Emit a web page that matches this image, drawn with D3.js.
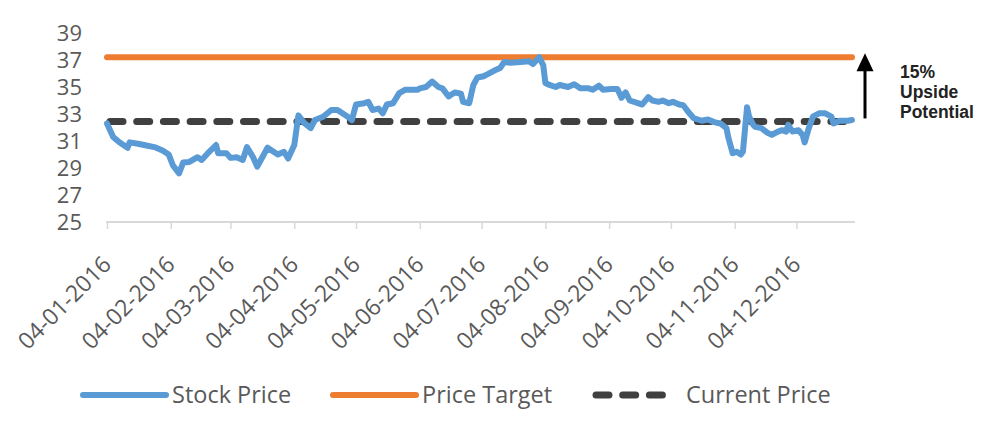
<!DOCTYPE html>
<html>
<head>
<meta charset="utf-8">
<script src="https://d3js.org/d3.v7.min.js"></script>
<style>
  body { margin: 0; background: #fff; }
  svg { display: block; }
</style>
</head>
<body>
<svg></svg>
<script>
var width = 990,
	height = 424;

// stock price
var dates = ["2016-01-04","2016-01-07","2016-01-10","2016-01-14","2016-01-15","2016-01-19","2016-01-22","2016-01-27","2016-01-31",
	"2016-02-03","2016-02-05","2016-02-08","2016-02-10","2016-02-13","2016-02-17","2016-02-19","2016-02-22","2016-02-26","2016-02-27",
	"2016-03-02","2016-03-04","2016-03-07","2016-03-10","2016-03-12","2016-03-15","2016-03-17","2016-03-22","2016-03-27","2016-03-30",
	"2016-04-01","2016-04-04","2016-04-06","2016-04-09","2016-04-12","2016-04-14","2016-04-18","2016-04-22","2016-04-25","2016-04-30",
	"2016-05-02","2016-05-04","2016-05-08","2016-05-10","2016-05-12","2016-05-15","2016-05-17","2016-05-19","2016-05-22","2016-05-25","2016-05-28",
	"2016-06-03","2016-06-04","2016-06-07","2016-06-10","2016-06-13","2016-06-15","2016-06-18","2016-06-19","2016-06-21","2016-06-24","2016-06-25","2016-06-28","2016-06-30",
	"2016-07-02","2016-07-05","2016-07-07","2016-07-10","2016-07-13","2016-07-15","2016-07-18","2016-07-23","2016-07-27","2016-07-29",
	"2016-08-01","2016-08-03","2016-08-04","2016-08-06","2016-08-09","2016-08-11","2016-08-15","2016-08-18","2016-08-21","2016-08-25","2016-08-27","2016-08-30",
	"2016-09-01","2016-09-05","2016-09-08","2016-09-10","2016-09-12","2016-09-14","2016-09-18","2016-09-20","2016-09-23","2016-09-25","2016-09-28","2016-09-30",
	"2016-10-03","2016-10-05","2016-10-08","2016-10-10","2016-10-13","2016-10-15","2016-10-19","2016-10-22","2016-10-25","2016-10-28","2016-10-31",
	"2016-11-01","2016-11-03","2016-11-05","2016-11-07","2016-11-08","2016-11-10","2016-11-11","2016-11-13","2016-11-14","2016-11-17","2016-11-20","2016-11-22","2016-11-25","2016-11-27","2016-11-29","2016-11-30",
	"2016-12-02","2016-12-05","2016-12-07","2016-12-08","2016-12-10","2016-12-12","2016-12-15","2016-12-18","2016-12-21","2016-12-22","2016-12-25","2016-12-29","2016-12-31"];
var prices = [32.3,31.3,30.9,30.5,30.9,30.8,30.7,30.55,30.3,
	30.0,29.2,28.6,29.4,29.45,29.8,29.6,30.1,30.7,30.1,
	30.1,29.75,29.8,29.6,30.55,29.8,29.1,30.5,30.0,30.2,
	29.7,30.7,32.9,32.3,31.95,32.55,32.8,33.3,33.3,32.8,
	32.55,33.7,33.8,33.9,33.3,33.4,33.05,33.7,33.8,34.55,34.8,
	34.8,34.9,35.0,35.4,35.0,34.9,34.3,34.4,34.6,34.5,33.9,33.8,35.15,
	35.7,35.8,35.95,36.2,36.4,36.85,36.8,36.85,36.9,36.7,
	37.2,36.6,35.3,35.15,35.0,35.15,35.0,35.2,34.9,34.9,34.8,35.1,
	34.8,34.85,34.85,34.2,34.6,34.0,33.8,33.7,34.25,34.0,33.9,34.0,
	33.8,33.9,33.7,33.65,33.05,32.7,32.5,32.6,32.4,32.3,31.95,
	31.2,30.1,30.2,30.0,30.2,33.5,32.8,32.2,32.05,31.95,31.6,31.45,31.7,31.8,31.7,32.2,
	31.7,31.8,31.45,30.9,31.95,32.8,33.05,33.05,32.8,32.3,32.5,32.5,32.55];

var priceTarget = 37.2,
	currentPrice = 32.45;
var tickDates = ["2016-01-04","2016-02-04","2016-03-04","2016-04-04","2016-05-04","2016-06-04",
	"2016-07-04","2016-08-04","2016-09-04","2016-10-04","2016-11-04","2016-12-04"];
var yTicks = [25,27,29,31,33,35,37,39];
var legendNames = ["Stock Price","Price Target","Current Price"];
var annotation = ["15%","Upside","Potential"];

var parse = d3.timeParse("%Y-%m-%d");
var fmt = d3.timeFormat("%d-%m-%Y");
var series = dates.map(function(d, i){ return {date: parse(d), value: prices[i]}; });
var firstDate = parse(dates[0]), lastDate = parse(dates[dates.length - 1]);

var svg = d3.select("svg")
			.attr("width", width)
			.attr("height", height);

var x = d3.scaleTime()
		.domain([firstDate, lastDate])
		.range([107, 852]);
var y = d3.scaleLinear()
		.domain([25, 39])
		.range([222, 33]);

var blue = "#5b9bd5", orange = "#ed7d31", dark = "#404040";
var font = "'Open Sans', sans-serif";

// x axis
var xAxis = svg.append("g")
	.attr("transform", "translate(0,222)")
	.call(d3.axisBottom(x)
		.tickValues(tickDates.map(parse))
		.tickSize(7)
		.tickSizeOuter(0)
		.tickFormat(fmt));
xAxis.select(".domain").attr("stroke", "#d9d9d9").attr("stroke-width", 2)
	.attr("d", "M" + (x.range()[0] - 1) + ",0H" + (x.range()[1] + 3));
xAxis.selectAll(".tick line").attr("stroke", "#d9d9d9").attr("stroke-width", 1.5);
xAxis.selectAll(".tick text")
	.attr("fill", "#595959")
	.style("font-family", font)
	.style("font-size", "23px")
	.attr("text-anchor", "end")
	.attr("y", 0).attr("dy", 0)
	.attr("transform", "translate(5,44) rotate(-45)");

// y axis (labels only)
var yAxis = svg.append("g")
	.attr("transform", "translate(82,0)")
	.call(d3.axisLeft(y).tickValues(yTicks).tickSize(0).tickPadding(0));
yAxis.select(".domain").remove();
yAxis.selectAll(".tick text")
	.attr("fill", "#595959")
	.style("font-family", font)
	.style("font-size", "22px");

// price target
svg.append("line")
	.attr("x1", x(firstDate)).attr("x2", x(lastDate))
	.attr("y1", y(priceTarget)).attr("y2", y(priceTarget))
	.attr("stroke", orange).attr("stroke-width", 6).attr("stroke-linecap", "round");

// current price
svg.append("line")
	.attr("x1", x(firstDate) + 3).attr("x2", x(lastDate))
	.attr("y1", y(currentPrice)).attr("y2", y(currentPrice))
	.attr("stroke", dark).attr("stroke-width", 7).attr("stroke-linecap", "round")
	.attr("stroke-dasharray", "13,13.7");

// stock price
var line = d3.line()
	.x(function(d){ return x(d.date); })
	.y(function(d){ return y(d.value); });
svg.append("path")
	.datum(series)
	.attr("d", line)
	.attr("fill", "none")
	.attr("stroke", blue)
	.attr("stroke-width", 6)
	.attr("stroke-linejoin", "round")
	.attr("stroke-linecap", "round");

// upside arrow
var ax = 865;
svg.append("line")
	.attr("x1", ax).attr("x2", ax)
	.attr("y1", y(currentPrice) - 3).attr("y2", y(priceTarget) + 12)
	.attr("stroke", "#000").attr("stroke-width", 3);
svg.append("path")
	.attr("d", "M" + ax + "," + (y(priceTarget) - 4) + "L" + (ax - 8.5) + "," + (y(priceTarget) + 14) + "L" + (ax + 8.5) + "," + (y(priceTarget) + 14) + "Z")
	.attr("fill", "#000");
svg.append("text")
	.attr("x", 900).attr("y", 78)
	.style("font-family", "'Liberation Sans', Arial, sans-serif")
	.style("font-weight", "bold")
	.style("font-size", "17.5px")
	.attr("fill", "#222")
	.selectAll("tspan")
	.data(annotation)
	.enter()
	.append("tspan")
	.attr("x", 900)
	.attr("dy", function(d, i){ return i ? 20 : 0; })
	.text(function(d){ return d; });

// legend
var legendX = [83, 333, 596];
var legend = svg.append("g").selectAll("g")
	.data(legendNames)
	.enter()
	.append("g")
	.attr("transform", function(d, i){ return "translate(" + legendX[i] + ",395)"; });
legend.append("line")
	.attr("x1", 0)
	.attr("x2", function(d, i){ return i == 2 ? 75 : 83; })
	.attr("stroke", function(d, i){ return [blue, orange, dark][i]; })
	.attr("stroke-width", function(d, i){ return i == 2 ? 7 : 6; })
	.attr("stroke-linecap", "round")
	.attr("stroke-dasharray", function(d, i){ return i == 2 ? "13,13.7" : null; });
legend.append("text")
	.attr("x", function(d, i){ return i == 2 ? 90 : 89; })
	.attr("dy", "0.35em")
	.attr("fill", "#595959")
	.style("font-family", font)
	.style("font-size", "23.5px")
	.text(function(d){ return d; });
</script>
</body>
</html>
